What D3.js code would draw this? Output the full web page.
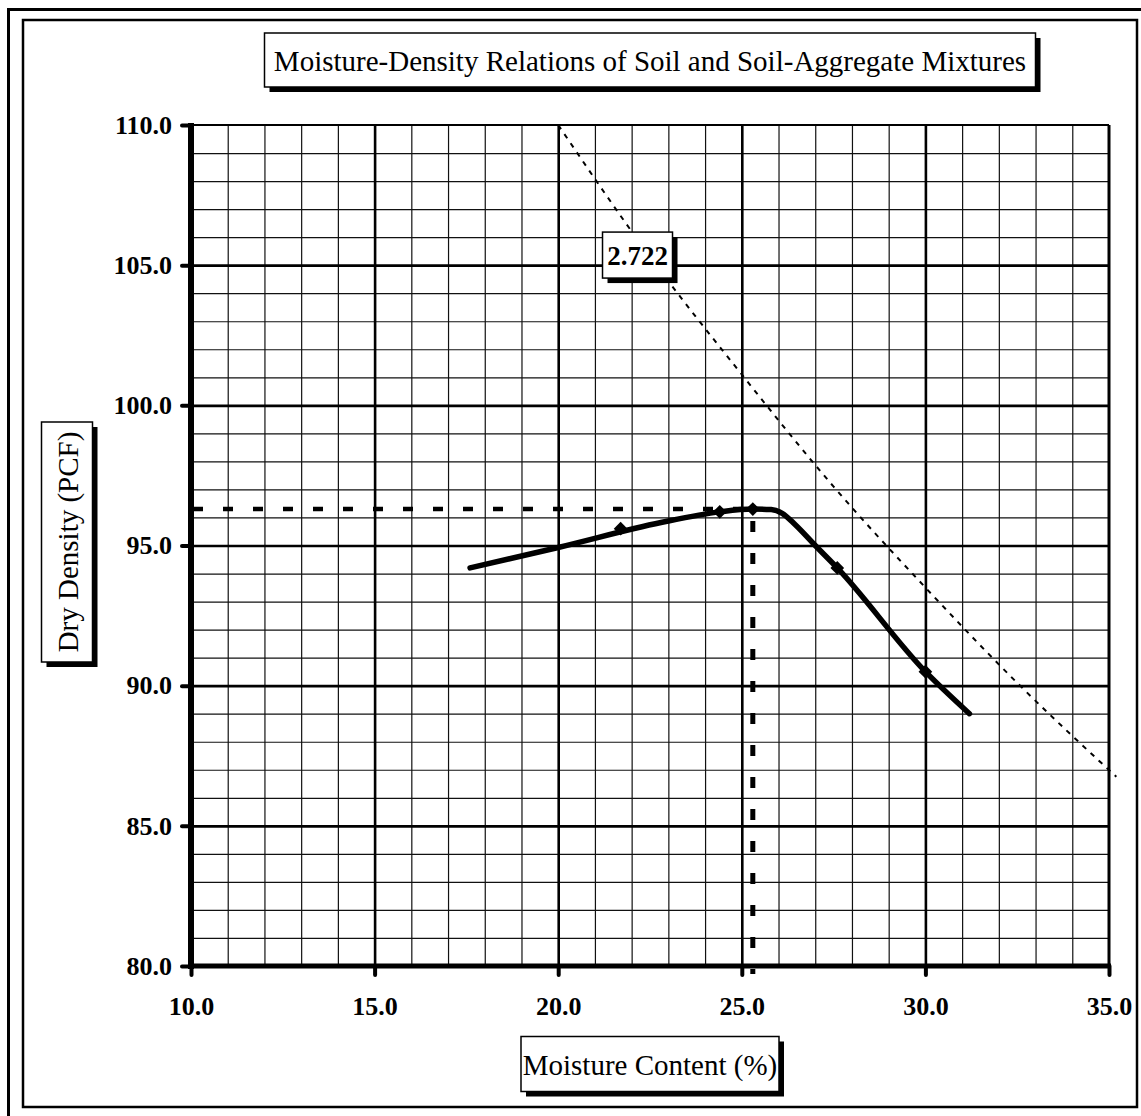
<!DOCTYPE html>
<html>
<head>
<meta charset="utf-8">
<script src="https://cdn.jsdelivr.net/npm/d3@7"></script>
<style>
  body { margin: 0; background: #fff; }
  svg { display: block; }
  text { font-family: "Liberation Serif", "Times New Roman", serif; fill: #000; }
</style>
</head>
<body>
<div id="chart"></div>
<script>
// Axis ticks
const xTicks = [10, 15, 20, 25, 30, 35];
const yTicks = [80, 85, 90, 95, 100, 105, 110];

// Fitted compaction curve
const fitMoisture = [17.6, 20.0, 22.8, 24.4, 25.3, 25.8, 26.1, 26.45, 27.0, 27.6, 30.0, 31.2];
const fitDensity  = [94.2, 94.93, 95.82, 96.2, 96.3, 96.28, 96.15, 95.75, 95.0, 94.2, 90.5, 89.0];

// Test points
const testMoisture = [21.7, 24.4, 25.3, 27.6, 30.0];
const testDensity  = [95.6, 96.2, 96.3, 94.2, 90.5];

// Zero air voids line (Gs = 2.722)
const zavMoisture = [20.0, 22.5, 25.0, 27.5, 30.0, 32.5, 35.2];
const zavDensity  = [110.0, 105.3, 101.1, 97.1, 93.5, 90.1, 86.75];
const zavLabel = "2.722";
const zavLabelAt = [22.16, 105.36];

// Optimum
const optMoisture = 25.3;
const maxDensity = 96.3;

const titleText = "Moisture-Density Relations of Soil and Soil-Aggregate Mixtures";
const xLabel = "Moisture Content (%)";
const yLabel = "Dry Density (PCF)";

const W = 1141, H = 1116;
const pLeft = 191, pRight = 1109, pTop = 125, pBottom = 966;

const svg = d3.select("#chart").append("svg")
  .attr("width", W)
  .attr("height", H);

// frame
svg.append("rect").attr("x", 8.5).attr("y", 9.5).attr("width", 1145).attr("height", 1120)
  .attr("fill", "none").attr("stroke", "#000").attr("stroke-width", 3);
svg.append("rect").attr("x", 23).attr("y", 20).attr("width", 1114).attr("height", 1087)
  .attr("fill", "none").attr("stroke", "#000").attr("stroke-width", 2.5);

const x = d3.scaleLinear().domain([10, 35]).range([pLeft, pRight]);
const y = d3.scaleLinear().domain([80, 110]).range([pBottom, pTop]);

const plotW = pRight - pLeft, plotH = pBottom - pTop;

// minor grid
svg.append("g")
  .attr("transform", "translate(0," + pBottom + ")")
  .call(d3.axisBottom(x).tickValues(d3.range(11, 35)).tickSize(-plotH).tickFormat(""))
  .call(g => g.select(".domain").remove())
  .selectAll("line").attr("stroke", "#111").attr("stroke-width", 1.2);
svg.append("g")
  .attr("transform", "translate(" + pLeft + ",0)")
  .call(d3.axisLeft(y).tickValues(d3.range(81, 110)).tickSize(-plotW).tickFormat(""))
  .call(g => g.select(".domain").remove())
  .selectAll("line").attr("stroke", "#111").attr("stroke-width", 1.2);

// major grid
svg.append("g")
  .attr("transform", "translate(0," + pBottom + ")")
  .call(d3.axisBottom(x).tickValues([15, 20, 25, 30]).tickSize(-plotH).tickFormat(""))
  .call(g => g.select(".domain").remove())
  .selectAll("line").attr("stroke", "#000").attr("stroke-width", 2.6);
svg.append("g")
  .attr("transform", "translate(" + pLeft + ",0)")
  .call(d3.axisLeft(y).tickValues([85, 90, 95, 100, 105]).tickSize(-plotW).tickFormat(""))
  .call(g => g.select(".domain").remove())
  .selectAll("line").attr("stroke", "#000").attr("stroke-width", 2.6);

// top and right border
svg.append("line").attr("x1", pLeft).attr("x2", pRight).attr("y1", pTop).attr("y2", pTop)
  .attr("stroke", "#000").attr("stroke-width", 2.2);
svg.append("line").attr("x1", pRight).attr("x2", pRight).attr("y1", pTop).attr("y2", pBottom)
  .attr("stroke", "#000").attr("stroke-width", 3);

// axes
const yAxis = svg.append("g")
  .attr("transform", "translate(" + pLeft + ",0)")
  .call(d3.axisLeft(y).tickValues(yTicks).tickSize(9).tickPadding(10).tickFormat(d3.format(".1f")));
yAxis.select(".domain").attr("stroke-width", 6).attr("d", "M0," + (pTop - 2) + "V" + (pBottom + 3));
yAxis.selectAll("line").attr("stroke-width", 4).attr("stroke-linecap", "round");
yAxis.selectAll("text")
  .style("font-family", "'Liberation Serif', 'Times New Roman', serif")
  .style("font-size", "26px").style("font-weight", "bold");

const xAxis = svg.append("g")
  .attr("transform", "translate(0," + pBottom + ")")
  .call(d3.axisBottom(x).tickValues(xTicks).tickSize(9).tickPadding(22).tickFormat(d3.format(".1f")));
xAxis.select(".domain").attr("stroke-width", 5).attr("d", "M" + (pLeft - 3) + ",0H" + (pRight + 2));
xAxis.selectAll("line").attr("stroke-width", 4).attr("stroke-linecap", "round");
xAxis.selectAll("text")
  .style("font-family", "'Liberation Serif', 'Times New Roman', serif")
  .style("font-size", "26px").style("font-weight", "bold");

// zero air voids line
const zav = zavMoisture.map((m, i) => [m, zavDensity[i]]);
svg.append("path")
  .datum(zav)
  .attr("fill", "none")
  .attr("stroke", "#000")
  .attr("stroke-width", 2)
  .attr("stroke-dasharray", "5,6")
  .attr("d", d3.line().x(d => x(d[0])).y(d => y(d[1])).curve(d3.curveMonotoneX));

// optimum dashed lines
svg.append("line")
  .attr("x1", x(10) + 2).attr("x2", x(optMoisture))
  .attr("y1", y(maxDensity)).attr("y2", y(maxDensity))
  .attr("stroke", "#000").attr("stroke-width", 4.5).attr("stroke-dasharray", "10,20");
svg.append("line")
  .attr("x1", x(optMoisture)).attr("x2", x(optMoisture))
  .attr("y1", y(maxDensity) + 12).attr("y2", pBottom + 8)
  .attr("stroke", "#000").attr("stroke-width", 5).attr("stroke-dasharray", "11,21");

// fitted curve
const fit = fitMoisture.map((m, i) => [m, fitDensity[i]]);
svg.append("path")
  .datum(fit)
  .attr("fill", "none")
  .attr("stroke", "#000")
  .attr("stroke-width", 5.5)
  .attr("stroke-linecap", "round")
  .attr("stroke-linejoin", "round")
  .attr("d", d3.line().x(d => x(d[0])).y(d => y(d[1])).curve(d3.curveMonotoneX));

// test points
svg.append("g").selectAll("path")
  .data(testMoisture.map((m, i) => [m, testDensity[i]]))
  .join("path")
  .attr("transform", d => "translate(" + x(d[0]) + "," + y(d[1]) + ")")
  .attr("d", d3.symbol(d3.symbolDiamond2, 120))
  .attr("fill", "#000");

// boxed labels
function boxLabel(cx, cy, w, h, text, opts) {
  const g = svg.append("g");
  g.append("rect").attr("x", cx - w / 2 + 5).attr("y", cy - h / 2 + 5)
    .attr("width", w).attr("height", h).attr("fill", "#000");
  g.append("rect").attr("x", cx - w / 2).attr("y", cy - h / 2)
    .attr("width", w).attr("height", h).attr("fill", "#fff")
    .attr("stroke", "#000").attr("stroke-width", 1.5);
  const t = g.append("text")
    .attr("text-anchor", "middle")
    .attr("dominant-baseline", "central")
    .style("font-size", opts.size + "px")
    .style("font-weight", opts.bold ? "bold" : "normal")
    .text(text);
  if (opts.rotate) {
    t.attr("transform", "translate(" + (cx + 1) + "," + cy + ") rotate(-90)");
  } else {
    t.attr("x", cx).attr("y", cy + 1);
  }
}

const cxPlot = (pLeft + pRight) / 2;
boxLabel(cxPlot, 60, 771, 54, titleText, { size: 29 });
boxLabel(cxPlot, 1064, 258, 55, xLabel, { size: 29 });
boxLabel(67, 542, 51, 240, yLabel, { size: 29, rotate: true });
boxLabel(x(zavLabelAt[0]), y(zavLabelAt[1]), 70, 46, zavLabel, { size: 27, bold: true });
</script>
</body>
</html>
